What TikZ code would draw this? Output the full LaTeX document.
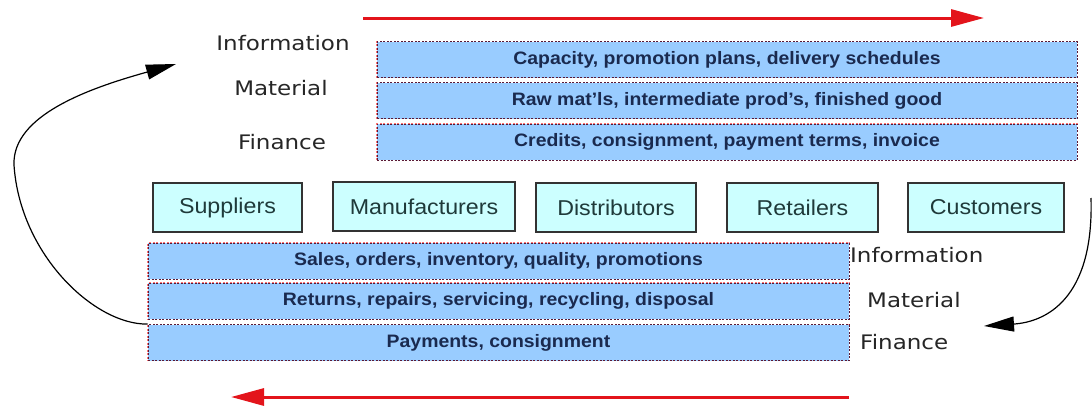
\documentclass[tikz,border=0pt]{standalone}
\usepackage{fontspec}
\setmainfont[FakeStretch=1.08]{Liberation Sans}
\newfontfamily\labelfont[FakeStretch=1.15]{DejaVu Sans}
\usetikzlibrary{arrows.meta}
\definecolor{flowfill}{HTML}{99CCFF}
\definecolor{flowtext}{HTML}{1A2A4F}
\definecolor{entfill}{HTML}{CCFFFF}
\definecolor{enttext}{HTML}{1F3A3A}
\definecolor{flowred}{HTML}{E3141B}
\definecolor{dashdark}{HTML}{5A1A35}
\tikzset{
  flowbox/.style={minimum width=700pt, minimum height=36pt, inner sep=0pt,
    fill=flowfill, text=flowtext, font=\fontsize{18}{20}\selectfont\bfseries,
    preaction={draw=red!55, line width=1.4pt},
    draw=dashdark, dashed, dash pattern=on 2pt off 1.5pt, line width=0.9pt},
  entbox/.style={minimum height=49pt, inner sep=0pt, fill=entfill, draw=black!80,
    line width=1.6pt, text=enttext, font=\fontsize{21.5}{24}\selectfont},
  flowlabel/.style={inner sep=0pt, text=black!85, font=\labelfont\fontsize{20}{22}\selectfont},
  bigred/.style={draw=flowred, line width=3pt, -{Triangle[length=33pt,width=17pt]}},
  loop/.style={draw=black, line width=1.2pt, -{Triangle[length=30pt,width=15pt]}}
}
\begin{document}
\begin{tikzpicture}[x=1pt,y=-1pt]
\useasboundingbox (0,0) rectangle (1092,407);
% top flows
\node[flowbox] (t1) at (727,59.5) {Capacity, promotion plans, delivery schedules};
\node[flowbox] (t2) at (727,100.5) {Raw mat'ls, intermediate prod's, finished good};
\node[flowbox] (t3) at (727,142) {Credits, consignment, payment terms, invoice};
\node[flowlabel] (ti) at (283,43) {Information};
\node[flowlabel] (tm) at (281,88) {Material};
\node[flowlabel] (tf) at (282,142) {Finance};
% entities
\node[entbox, minimum width=149pt] (sup) at (227.5,207.5) {Suppliers};
\node[entbox, minimum width=182pt] (man) at (424,206.5) {Manufacturers};
\node[entbox, minimum width=160pt] (dis) at (616,207.5) {Distributors};
\node[entbox, minimum width=151pt] (ret) at (802.5,207.5) {Retailers};
\node[entbox, minimum width=156pt] (cus) at (986,207.5) {Customers};
% bottom flows
\node[flowbox, minimum width=701pt] (b1) at (498.5,261) {Sales, orders, inventory, quality, promotions};
\node[flowbox, minimum width=701pt] (b2) at (498.5,301) {Returns, repairs, servicing, recycling, disposal};
\node[flowbox, minimum width=701pt] (b3) at (498.5,342.5) {Payments, consignment};
\node[flowlabel, anchor=west] (bi) at (850,255) {Information};
\node[flowlabel, anchor=west] (bm) at (867,300) {Material};
\node[flowlabel, anchor=west] (bf) at (860,342) {Finance};
% red arrows
\coordinate (ra1) at (363,18);
\coordinate (ra2) at (984,18);
\coordinate (rb1) at (849,397);
\coordinate (rb2) at (231,397);
\draw[bigred] (ra1) -- (ra2);
\draw[bigred] (rb1) -- (rb2);
% loops
\coordinate (lend) at (176,64);
\draw[loop] (b3.north west) .. controls (95,325) and (20,255) .. (14,165)
  .. controls (12,115) and (90,88) .. (lend);
\coordinate (rstart) at (1091,198);
\coordinate (rend) at (984,326);
\draw[loop] (rstart) .. controls (1094,300) and (1045,322) .. (rend);
\end{tikzpicture}
\end{document}
